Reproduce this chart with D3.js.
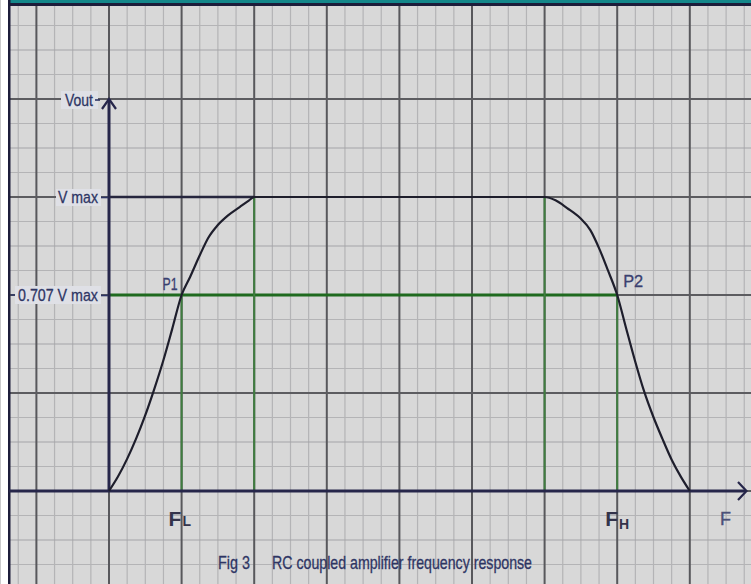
<!DOCTYPE html>
<html>
<head>
<meta charset="utf-8">
<script src="https://cdn.jsdelivr.net/npm/d3@7/dist/d3.min.js"></script>
<style>
  html, body { margin: 0; padding: 0; background: #ffffff; }
  svg { display: block; }
  text { font-family: "Liberation Sans Narrow", "Liberation Sans", Arial, sans-serif; }
</style>
</head>
<body>
<script>
// Frequency response of an RC coupled amplifier (schematic).
// Frequency is in grid divisions: 0 = origin, 1 = FL, 7 = FH.
// Vout is a fraction of V max.

// Low-frequency rise up to the mid band
const riseF = [0, 0.124, 0.248, 0.372, 0.496, 0.62, 0.745, 0.869, 1, 1.117, 1.255, 1.37, 1.49, 1.64, 1.8, 1.93, 2];
const riseV = [0, 0.052, 0.115, 0.188, 0.271, 0.365, 0.468, 0.583, 0.707, 0.761, 0.828, 0.879, 0.914, 0.945, 0.970, 0.99, 1];

// High-frequency roll-off after the mid band
const fallF = [6, 6.15, 6.31, 6.49, 6.63, 6.76, 6.87, 7, 7.12, 7.245, 7.37, 7.5, 7.62, 7.75, 7.876, 8];
const fallV = [1, 0.99, 0.967, 0.937, 0.901, 0.842, 0.782, 0.707, 0.59, 0.47, 0.36, 0.266, 0.19, 0.113, 0.052, 0];

// Half-power points and mid-band edges
const cutoffF = [1, 7];
const cutoffNames = ["P1", "P2"];
const bandEdgeF = [2, 6];
const halfPower = 0.707;
const vMax = 1;

// Axis tick values and labels
const yTickValues = [1, 0.707];
const yTickLabels = ["V max", "0.707 V max"];
const xTickMain = ["F", "F"];
const xTickSub = ["L", "H"];

const W = 751, H = 584;

const svg = d3.select("body").append("svg")
  .attr("width", W).attr("height", H);

// scales
const x = d3.scaleLinear().domain([0, 8]).range([109, 689.8]);
const y = d3.scaleLinear().domain([0, 0.707, 1]).range([491, 295, 197]);
// graph-paper rows: one unit = one major row
const gy = d3.scaleLinear().domain([0, 1]).range([491, 393]);

// paper
svg.append("rect").attr("x", 9).attr("y", 0).attr("width", W - 9).attr("height", H)
  .attr("fill", "#d8d8d8");

const grid = svg.append("g");
const colSteps = d3.range(-1.5, 8.76, 0.25);
const rowSteps = d3.range(-1, 5.01, 0.25);

function isMajor(v) { return Math.abs(v - Math.round(v)) < 1e-6; }
function isHalf(v) { return Math.abs(v * 2 - Math.round(v * 2)) < 1e-6; }

// minor lines first
grid.selectAll("line.vmin").data(colSteps.filter(v => !isMajor(v))).join("line")
  .attr("x1", d => x(d)).attr("x2", d => x(d)).attr("y1", 0).attr("y2", H)
  .attr("stroke", "#b4b4b6").attr("stroke-width", 1.2);
grid.selectAll("line.hmin").data(rowSteps.filter(v => !isMajor(v))).join("line")
  .attr("y1", d => gy(d)).attr("y2", d => gy(d)).attr("x1", 9).attr("x2", W)
  .attr("stroke", d => isHalf(d) ? "#a4a4a8" : "#b4b4b6").attr("stroke-width", 1.2);

// major lines
grid.selectAll("line.vmaj").data(colSteps.filter(isMajor)).join("line")
  .attr("x1", d => x(d)).attr("x2", d => x(d)).attr("y1", 0).attr("y2", H)
  .attr("stroke", "#58585c").attr("stroke-width", 2);
grid.selectAll("line.hmaj").data(rowSteps.filter(isMajor)).join("line")
  .attr("y1", d => gy(d)).attr("y2", d => gy(d)).attr("x1", 9).attr("x2", W)
  .attr("stroke", "#5c5c60").attr("stroke-width", 2);

// frame: teal top band, dark rule, left edge
svg.append("rect").attr("x", 9).attr("y", 0).attr("width", W - 9).attr("height", 3).attr("fill", "#13878a");
svg.append("rect").attr("x", 9).attr("y", 3).attr("width", W - 9).attr("height", 3).attr("fill", "#1c1c3a");
svg.append("rect").attr("x", 8).attr("y", 0).attr("width", 2.5).attr("height", H).attr("fill", "#1c1c3a");

// green construction lines
const green = svg.append("g");
green.append("line")
  .attr("x1", x(0)).attr("x2", x(cutoffF[1]))
  .attr("y1", y(halfPower)).attr("y2", y(halfPower))
  .attr("stroke", "#1f6a1f").attr("stroke-width", 3);
green.selectAll("line.cut").data(cutoffF).join("line")
  .attr("x1", d => x(d)).attr("x2", d => x(d))
  .attr("y1", y(halfPower)).attr("y2", y(0))
  .attr("stroke", "#3f7d3f").attr("stroke-width", 2);
green.selectAll("line.edge").data(bandEdgeF).join("line")
  .attr("x1", d => x(d)).attr("x2", d => x(d))
  .attr("y1", y(vMax)).attr("y2", y(0))
  .attr("stroke", "#3f7d3f").attr("stroke-width", 2);

// V max reference from the axis to the band edge
svg.append("line")
  .attr("x1", x(0)).attr("x2", x(bandEdgeF[0]))
  .attr("y1", y(vMax)).attr("y2", y(vMax))
  .attr("stroke", "#26263e").attr("stroke-width", 2.5);

// axes
const axisCol = "#26264a";
svg.append("line").attr("x1", 9).attr("x2", 746).attr("y1", y(0)).attr("y2", y(0))
  .attr("stroke", axisCol).attr("stroke-width", 3);
svg.append("path").attr("d", "M738,482 L746.5,491 L738,500")
  .attr("fill", "none").attr("stroke", axisCol).attr("stroke-width", 2.2);
svg.append("line").attr("x1", x(0)).attr("x2", x(0)).attr("y1", y(0)).attr("y2", gy(4))
  .attr("stroke", axisCol).attr("stroke-width", 3);
svg.append("path").attr("d", `M${x(0) - 7},${gy(4) + 10} L${x(0)},${gy(4)} L${x(0) + 7},${gy(4) + 10}`)
  .attr("fill", "none").attr("stroke", axisCol).attr("stroke-width", 2.2);

// response curve
const pts = riseF.map((f, i) => [f, riseV[i]])
  .concat(fallF.map((f, i) => [f, fallV[i]]));
const line = d3.line().x(d => x(d[0])).y(d => y(d[1])).curve(d3.curveMonotoneX);
svg.append("path").datum(pts).attr("d", line)
  .attr("fill", "none").attr("stroke", "#1e1e2c").attr("stroke-width", 2.2)
  .attr("stroke-linejoin", "round");

const textCol = "#2e3564";

// label boxes on the left of the y axis
const boxes = [[61, 91, 37, 18], [56, 189, 45, 17], [15, 286, 86, 18]];
svg.selectAll("rect.lb").data(boxes).join("rect")
  .attr("x", d => d[0]).attr("y", d => d[1]).attr("width", d => d[2]).attr("height", d => d[3])
  .attr("fill", "#dfe0e6");

// y axis ticks
const yAxis = d3.axisLeft(y).tickValues(yTickValues).tickSize(7).tickPadding(3)
  .tickFormat((d, i) => yTickLabels[i]);
const yg = svg.append("g").attr("transform", `translate(${x(0) - 1},0)`).call(yAxis);
yg.select(".domain").remove();
yg.selectAll(".tick line").attr("stroke", textCol).attr("stroke-width", 1.6);
yg.selectAll(".tick text")
  .attr("fill", textCol).attr("font-size", 17).attr("stroke", textCol).attr("stroke-width", 0.3)
  .attr("textLength", (d, i) => [40, 80][i]).attr("lengthAdjust", "spacingAndGlyphs");

// leading dash on the 0.707 row
svg.append("line").attr("x1", 11).attr("x2", 15).attr("y1", y(halfPower)).attr("y2", y(halfPower))
  .attr("stroke", textCol).attr("stroke-width", 1.6);

// Vout label
svg.append("text").attr("x", 65).attr("y", gy(4) + 7).text("Vout")
  .attr("fill", textCol).attr("font-size", 17).attr("stroke", textCol).attr("stroke-width", 0.3)
  .attr("textLength", 28).attr("lengthAdjust", "spacingAndGlyphs");
svg.append("line").attr("x1", 95).attr("x2", 100).attr("y1", gy(4) + 1).attr("y2", gy(4) + 1)
  .attr("stroke", textCol).attr("stroke-width", 1.6);

// P1 / P2
svg.selectAll("text.pt").data(cutoffF).join("text")
  .attr("x", (d, i) => x(d) + [-19, 6][i]).attr("y", (d, i) => y(halfPower) + [-5, -8][i])
  .text((d, i) => cutoffNames[i])
  .attr("fill", "#3a4070").attr("font-size", 16).attr("stroke", "#3a4070").attr("stroke-width", 0.3)
  .attr("textLength", (d, i) => [15, 20][i]).attr("lengthAdjust", "spacingAndGlyphs");

// FL / FH
const fl = svg.selectAll("text.fx").data(cutoffF).join("text")
  .attr("x", (d, i) => x(d) + [-13, -12][i]).attr("y", 526)
  .attr("fill", "#33334a");
fl.append("tspan").text((d, i) => xTickMain[i]).attr("font-size", 21).attr("font-weight", "bold");
fl.append("tspan").text((d, i) => xTickSub[i]).attr("font-size", 14).attr("dx", 1)
  .attr("dy", (d, i) => [0, 3][i]).attr("font-weight", "bold");

// F axis label
svg.append("text").attr("x", 720).attr("y", 525).text("F")
  .attr("fill", "#4a5078").attr("font-size", 18).attr("stroke", "#4a5078").attr("stroke-width", 0.4);

// caption
svg.append("text").attr("x", 218).attr("y", 569).text("Fig 3")
  .attr("fill", textCol).attr("font-size", 19).attr("stroke", textCol).attr("stroke-width", 0.3)
  .attr("textLength", 32).attr("lengthAdjust", "spacingAndGlyphs");
svg.append("text").attr("x", 272).attr("y", 569).text("RC coupled amplifier frequency response")
  .attr("fill", textCol).attr("font-size", 19).attr("stroke", textCol).attr("stroke-width", 0.3)
  .attr("textLength", 260).attr("lengthAdjust", "spacingAndGlyphs");
</script>
</body>
</html>
